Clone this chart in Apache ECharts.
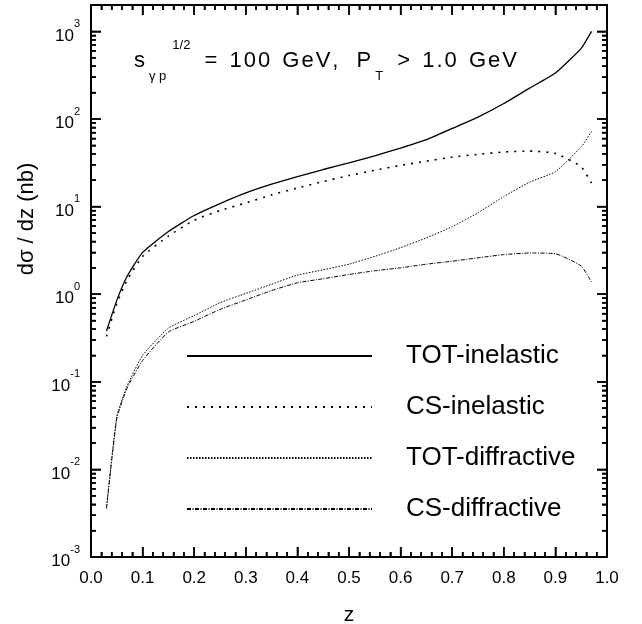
<!DOCTYPE html>
<html>
<head>
<meta charset="utf-8">
<script src="https://cdn.jsdelivr.net/npm/echarts@6/dist/echarts.min.js"></script>
<style>
  html, body { margin: 0; padding: 0; background: #fff; }
  #chart { width: 642px; height: 624px; }
</style>
</head>
<body>
<div id="chart"></div>
<script>
// photon energy fraction z
var zValues = [0.03, 0.05, 0.07, 0.1, 0.15, 0.2, 0.25, 0.3, 0.35, 0.4, 0.45, 0.5, 0.55, 0.6, 0.65, 0.7, 0.75, 0.8, 0.85, 0.9, 0.95, 0.97]

// d sigma / dz (nb)
var totInelastic = [0.38, 0.85, 1.6, 3.0, 5.2, 7.9, 10.8, 14.3, 18, 22, 26.5, 31.5, 38, 46.5, 58, 78, 105, 150, 225, 335, 640, 1000]
var csInelastic = [0.33, 0.78, 1.45, 2.7, 4.6, 7.0, 9.0, 11.0, 13.6, 16.3, 19.3, 22.6, 26, 29.5, 33, 36.7, 39.5, 42, 43, 40.5, 28.5, 18.5]
var totDiffractive = [0.0036, 0.04, 0.09, 0.2, 0.41, 0.57, 0.8, 1.02, 1.3, 1.65, 1.9, 2.2, 2.7, 3.4, 4.4, 5.9, 8.5, 13, 19, 25, 48, 72]
var csDiffractive = [0.0036, 0.038, 0.085, 0.175, 0.37, 0.49, 0.67, 0.86, 1.1, 1.35, 1.5, 1.68, 1.85, 2.0, 2.2, 2.38, 2.6, 2.83, 2.95, 2.9, 2.1, 1.37]

var seriesNames = ['TOT-inelastic', 'CS-inelastic', 'TOT-diffractive', 'CS-diffractive']

// axis decoration: tick positions
var xMajorTicks = [0, 0.1, 0.2, 0.3, 0.4, 0.5, 0.6, 0.7, 0.8, 0.9, 1.0]
var yDecades = [0.001, 0.01, 0.1, 1, 10, 100, 1000]
var yMin = 0.001
var yMax = 2000

var xMinorTicks = []
xMajorTicks.slice(0, -1).forEach(function(t) {
  for (var k = 1; k < 5; k++) xMinorTicks.push(+(t + k * 0.02).toFixed(2))
})
var yMinorTicks = []
yDecades.forEach(function(d) {
  for (var k = 2; k <= 9; k++) {
    if (d * k < yMax) yMinorTicks.push(d * k)
  }
})

var font = 'Liberation Sans, Arial, sans-serif'

function pairs(ys) {
  return zValues.map(function(z, i) {
    return [z, ys[i]]
  })
}

// wrap every character in its own rich token so the title gets letter spacing
function spaced(str, style) {
  return str.split('').map(function(c) {
    return '{' + (c === ' ' ? 'sp' : style) + '|' + c + '}'
  }).join('')
}

function lineSeries(name, ys, width, dash) {
  return {
    name: name,
    type: 'line',
    data: pairs(ys),
    symbol: 'none',
    smooth: 0.15,
    color: '#000',
    lineStyle: { color: '#000', width: width, type: dash }
  }
}

function xAxisOf(position, showLabel) {
  var axis = {
    type: 'value',
    position: position,
    min: 0,
    max: 1,
    interval: 0.1,
    axisLine: { show: true, onZero: false, lineStyle: { color: '#000', width: 2 } },
    axisTick: { show: true, inside: true, length: 10, lineStyle: { color: '#000', width: 1.5 } },
    minorTick: { show: true, splitNumber: 5, length: 5, lineStyle: { color: '#000', width: 1.5 } },
    splitLine: { show: false },
    axisLabel: { show: false }
  }
  if (showLabel) {
    axis.name = 'z'
    axis.nameLocation = 'middle'
    axis.nameGap = 48
    axis.nameTextStyle = { fontFamily: font, fontSize: 21, color: '#000' }
    axis.axisLabel = {
      show: true,
      margin: 13,
      fontFamily: font,
      fontSize: 17,
      color: '#000',
      formatter: function(v) {
        return Number(v).toFixed(1)
      }
    }
  }
  return axis
}

function yAxisOf(position, showLabel) {
  var axis = {
    type: 'log',
    position: position,
    min: yMin,
    max: yMax,
    interval: 1,
    axisLine: { show: true, onZero: false, lineStyle: { color: '#000', width: 2 } },
    axisTick: { show: true, inside: true, length: 10, lineStyle: { color: '#000', width: 1.5 } },
    minorTick: { show: true, splitNumber: 9, length: 5, lineStyle: { color: '#000', width: 1.5 } },
    splitLine: { show: false },
    axisLabel: { show: false }
  }
  if (showLabel) {
    axis.axisLabel = {
      show: true,
      margin: 11,
      color: '#000',
      formatter: function(v) {
        v = Number(v)
        if (!(v > 0)) return ''
        var lg = Math.log(v) / Math.LN10
        var e = Math.round(lg)
        if (Math.abs(lg - e) > 0.01) return ''
        return '{b|10}{s|' + e + '}'
      },
      rich: {
        b: { fontFamily: font, fontSize: 17, lineHeight: 26, verticalAlign: 'bottom', color: '#000' },
        s: { fontFamily: font, fontSize: 11, lineHeight: 11, verticalAlign: 'top', color: '#000' }
      }
    }
  }
  return axis
}

var chart = echarts.init(document.getElementById('chart'))

function apply(opt) {
  try {
    chart.setOption(opt)
  } catch (err) {
    console.error(err)
  }
}

// frame and curves
apply({
  animation: false,
  grid: { left: 91, right: 35, top: 5, bottom: 67, outerBoundsMode: 'none' },
  xAxis: [xAxisOf('bottom', true), xAxisOf('top', false)],
  yAxis: [yAxisOf('left', true), yAxisOf('right', false)],
  series: [
    lineSeries(seriesNames[0], totInelastic, 1.3, 'solid'),
    lineSeries(seriesNames[1], csInelastic, 1.6, [2, 6]),
    lineSeries(seriesNames[2], totDiffractive, 1, [1.5, 1.5]),
    lineSeries(seriesNames[3], csDiffractive, 1, [4, 1.5, 1, 1.5])
  ]
})

// energy label
apply({
  title: {
    left: 134,
    top: 39,
    padding: 0,
    text: spaced('s', 'm') + '{sub|γ p}{sup|1/2}' + spaced(' = 100 GeV,', 'm') + '{sp2| }' + spaced('P', 'm') +
      '{sub|T}' + spaced(' > 1.0 GeV', 'm'),
    textStyle: {
      fontWeight: 'normal',
      rich: {
        m: { fontFamily: font, fontSize: 22, fontWeight: 'normal', lineHeight: 44, verticalAlign: 'middle', color: '#000', padding: [0, 2, 0, 0] },
        sp: { fontFamily: font, fontSize: 22, fontWeight: 'normal', lineHeight: 44, verticalAlign: 'middle', color: '#000', padding: [0, 4, 0, 0] },
        sp2: { fontFamily: font, fontSize: 22, fontWeight: 'normal', lineHeight: 44, verticalAlign: 'middle', color: '#000', padding: [0, 10, 0, 0] },
        sub: { fontFamily: font, fontSize: 13, fontWeight: 'normal', lineHeight: 14, verticalAlign: 'bottom', color: '#000', padding: [0, 4, 0, 2] },
        sup: { fontFamily: font, fontSize: 13, fontWeight: 'normal', lineHeight: 14, verticalAlign: 'top', color: '#000', padding: [0, 4, 0, 2] }
      }
    }
  }
})

// inward ticks on all four edges, placed through the chart's own axis scales
function px(x, y) {
  return chart.convertToPixel({ gridIndex: 0 }, [x, y])
}

function seg(a, b) {
  return {
    type: 'line',
    silent: true,
    z: 10,
    shape: { x1: a[0], y1: a[1], x2: b[0], y2: b[1] },
    style: { stroke: '#000', lineWidth: 1.5 }
  }
}

var tickMarks = []
try {
  [[xMajorTicks, 10], [xMinorTicks, 5]].forEach(function(set) {
    set[0].forEach(function(v) {
      var b = px(v, yMin)
      var t = px(v, yMax)
      tickMarks.push(seg(b, [b[0], b[1] - set[1]]), seg(t, [t[0], t[1] + set[1]]))
    })
  });
  [[yDecades, 10], [yMinorTicks, 5]].forEach(function(set) {
    set[0].forEach(function(v) {
      var l = px(0, v)
      var r = px(1, v)
      tickMarks.push(seg(l, [l[0] + set[1], l[1]]), seg(r, [r[0] - set[1], r[1]]))
    })
  })
} catch (err) {
  console.error(err)
}

apply({
  graphic: [
    {
      type: 'text',
      x: 27,
      y: 219,
      rotation: Math.PI / 2,
      style: {
        text: 'dσ / dz (nb)',
        font: '22px ' + font,
        fill: '#000',
        textAlign: 'center',
        textVerticalAlign: 'middle'
      }
    }
  ].concat(tickMarks)
})

apply({
  legend: {
    orient: 'vertical',
    left: 186,
    top: 341,
    padding: 0,
    itemWidth: 185,
    itemHeight: 14,
    itemGap: 21,
    data: seriesNames,
    selectedMode: false,
    itemStyle: { opacity: 0 },
    textStyle: { fontFamily: font, fontSize: 26, lineHeight: 30, color: '#000', padding: [0, 0, 0, 29] }
  }
})
</script>
</body>
</html>
